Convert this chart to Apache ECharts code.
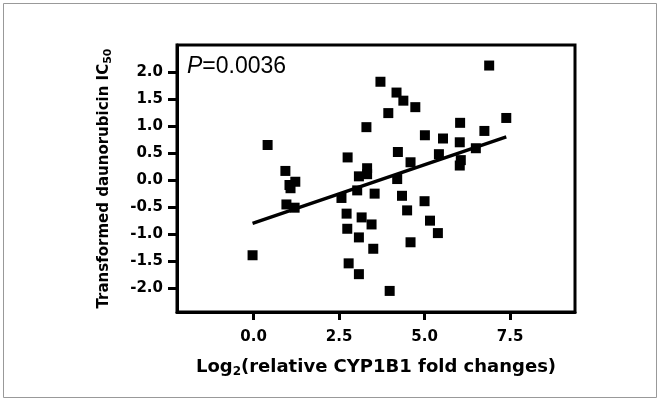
<!DOCTYPE html>
<html>
<head>
<meta charset="utf-8">
<script src="https://cdn.jsdelivr.net/npm/echarts@6/dist/echarts.min.js"></script>
<style>html,body{margin:0;padding:0;background:#fff}#c{width:661px;height:402px}</style>
</head>
<body>
<div id="c"></div>
<script>
// Data
var pointsX = [-0.03, 0.41, 0.93, 1.05, 1.08, 1.22, 0.96, 1.20, 2.57, 2.75, 2.72, 2.74, 2.78, 3.03, 3.08, 3.32, 3.32, 3.16, 3.08, 3.08, 3.30, 3.45, 3.50, 3.54, 3.71, 3.94, 3.98, 4.18, 4.38, 4.22, 4.20, 4.34, 4.49, 4.59, 4.59, 4.73, 5.01, 5.00, 5.16, 5.39, 5.42, 5.54, 6.04, 6.03, 6.06, 6.03, 6.50, 6.75, 6.89, 7.39];
var pointsY = [-1.39, 0.65, 0.17, -0.09, -0.15, -0.03, -0.45, -0.51, -0.33, 0.42, -0.62, -0.90, -1.54, -0.19, 0.07, 0.11, 0.22, -0.69, -1.06, -1.74, 0.98, -0.82, -1.27, -0.25, 1.82, 1.24, -2.05, 1.62, 1.47, 0.52, 0.02, -0.29, -0.56, -1.15, 0.33, 1.35, 0.83, -0.39, -0.75, -0.98, 0.48, 0.77, 1.06, 0.70, 0.37, 0.27, 0.59, 0.91, 2.12, 1.15];
var fitLineX = [-0.03, 7.39];
var fitLineY = [-0.80, 0.80];
var xTicks = [0, 2.5, 5, 7.5];
var yTicks = [-2, -1.5, -1, -0.5, 0, 0.5, 1, 1.5, 2];
var pLabel = 'P';
var pValue = '=0.0036';
var xTitleMain = 'Log';
var xTitleSub = '2';
var xTitleRest = '(relative CYP1B1 fold changes)';
var yTitleMain = 'Transformed daunorubicin IC';
var yTitleSub = '50';

var scatterData = pointsX.map(function (x, i) { return [x, pointsY[i]]; });
var lineData = fitLineX.map(function (x, i) { return [x, fitLineY[i]]; });

var boldFont = 'DejaVu Sans';
var chart = echarts.init(document.getElementById('c'), null, {renderer: 'canvas'});
chart.setOption({
  animation: false,
  backgroundColor: '#fff',
  grid: {left: 177, top: 45, right: 86, bottom: 90, show: true, borderColor: '#000', borderWidth: 3},
  xAxis: {
    type: 'value', min: -2.24, max: 9.4,
    splitLine: {show: false},
    axisLine: {show: true, onZero: false, lineStyle: {color: '#000', width: 3}},
    axisTick: {show: true, customValues: xTicks, length: 8, lineStyle: {color: '#000', width: 3}},
    axisLabel: {customValues: xTicks, margin: 18, color: '#000', fontFamily: boldFont, fontWeight: 'bold', fontSize: 15,
      formatter: function (v) { return v.toFixed(1); }},
    name: '{a|' + xTitleMain + '}{s|' + xTitleSub + '}{a|' + xTitleRest + '}',
    nameLocation: 'middle', nameGap: 44,
    nameTextStyle: {rich: {
      a: {fontFamily: boldFont, fontWeight: 'bold', fontSize: 18, color: '#000', lineHeight: 22},
      s: {fontFamily: boldFont, fontWeight: 'bold', fontSize: 12, color: '#000', lineHeight: 22, verticalAlign: 'bottom', padding: [10, 0, 0, 0]}
    }}
  },
  yAxis: {
    type: 'value', min: -2.44, max: 2.5,
    splitLine: {show: false},
    axisLine: {show: true, onZero: false, lineStyle: {color: '#000', width: 3}},
    axisTick: {show: true, customValues: yTicks, length: 9, lineStyle: {color: '#000', width: 3}},
    axisLabel: {customValues: yTicks, margin: 14, color: '#000', fontFamily: boldFont, fontWeight: 'bold', fontSize: 15,
      formatter: function (v) { return v.toFixed(1); }},
    name: '{a|' + yTitleMain + '}{s|' + yTitleSub + '}',
    nameLocation: 'middle', nameGap: 63, nameRotate: 90,
    nameTextStyle: {rich: {
      a: {fontFamily: boldFont, fontWeight: 'bold', fontSize: 15, color: '#000', lineHeight: 20},
      s: {fontFamily: boldFont, fontWeight: 'bold', fontSize: 11, color: '#000', lineHeight: 20, verticalAlign: 'bottom', padding: [9, 0, 0, 0]}
    }}
  },
  graphic: [
    {type: 'rect', silent: true, z: -10, shape: {x: 3.5, y: 3.5, width: 653, height: 394}, style: {fill: 'none', stroke: '#999', lineWidth: 1}},
    {type: 'text', left: 187, top: 55, style: {
      text: '{i|' + pLabel + '}{r|' + pValue + '}',
      rich: {
        i: {fontFamily: 'Liberation Sans', fontStyle: 'italic', fontSize: 23, fill: '#000'},
        r: {fontFamily: 'Liberation Sans', fontSize: 23, fill: '#000'}
      }
    }}
  ],
  series: [
    {type: 'line', data: lineData, showSymbol: false, symbol: 'none', lineStyle: {color: '#000', width: 3.3}, z: 2},
    {type: 'scatter', data: scatterData, symbol: 'rect', symbolSize: 10, itemStyle: {color: '#000', opacity: 1}, z: 3}
  ]
});
</script>
</body>
</html>
